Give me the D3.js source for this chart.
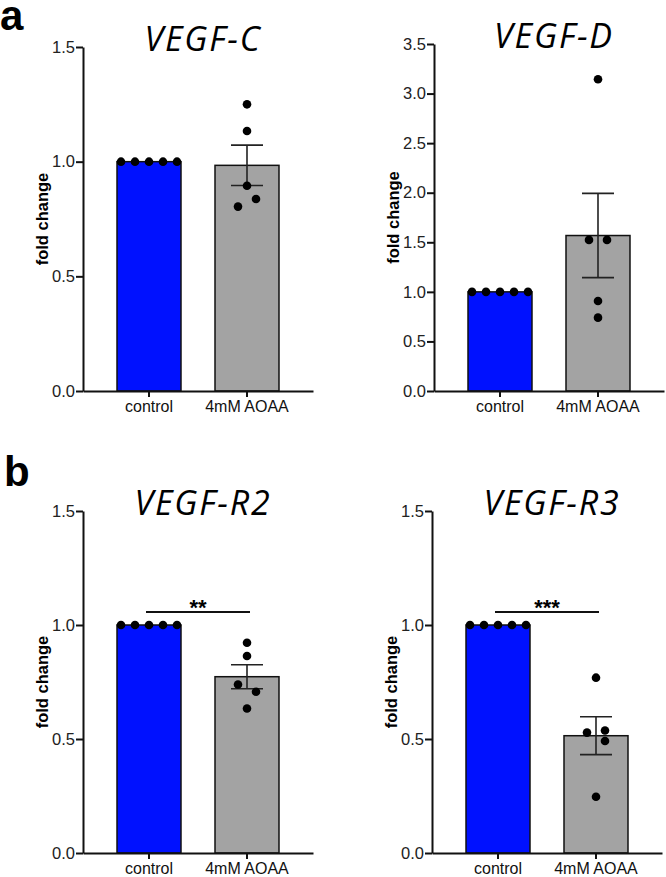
<!DOCTYPE html>
<html>
<head>
<meta charset="utf-8">
<script src="https://cdn.jsdelivr.net/npm/d3@7"></script>
<style>
body { margin: 0; background: #fff; }
svg { display: block; }
.tick text { font-family: "Liberation Sans", Arial, sans-serif; }
</style>
</head>
<body>
<svg id="chart" width="666" height="877"></svg>
<script>
// data
var genes = ["VEGF-C", "VEGF-D", "VEGF-R2", "VEGF-R3"]
var groups = ["control", "4mM AOAA"]
var controlPoints = [
  [1, 1, 1, 1, 1],
  [1, 1, 1, 1, 1],
  [1, 1, 1, 1, 1],
  [1, 1, 1, 1, 1]
]
var aoaaPoints = [
  [1.25, 1.134, 0.895, 0.837, 0.804],
  [3.145, 1.524, 1.524, 0.908, 0.74],
  [0.922, 0.864, 0.739, 0.707, 0.634],
  [0.769, 0.537, 0.528, 0.491, 0.247]
]
var yMax = [1.5, 3.5, 1.5, 1.5]
var significance = ["", "", "**", "***"]
var panelLetters = ["a", "b"]

// layout (pixels)
var layout = [
  {x: 83, top: 47, bottom: 391, jitter: [0, 0, 0, 9, -9]},
  {x: 434, top: 44, bottom: 391, jitter: [0, -9, 9, 0, 0]},
  {x: 83, top: 511, bottom: 853, jitter: [0, 0, -9, 9, 0]},
  {x: 432, top: 511, bottom: 853, jitter: [0, 9, -9, 9, 0]}
]
var controlJitter = [-28, -14, 0, 14, 28]
var colors = ["#0011ff", "#a3a3a3"]

var svg = d3.select("#chart")

svg.selectAll("text.letter")
  .data(panelLetters)
  .enter()
  .append("text")
  .attr("class", "letter")
  .attr("x", function(d, i) { return i == 0 ? 0 : 4 })
  .attr("y", function(d, i) { return i == 0 ? 30 : 486 })
  .attr("font-family", "Liberation Sans, Arial, sans-serif")
  .attr("font-weight", "bold")
  .attr("font-size", 42)
  .text(function(d) { return d })

var drawPanel = function(k)
{
  var L = layout[k]
  var g = svg.append("g")

  var xscale = d3.scaleBand()
    .domain(groups)
    .range([L.x, L.x + 230])
    .paddingInner(0.347)
    .paddingOuter(0.347)

  var yscale = d3.scaleLinear()
    .domain([0, yMax[k]])
    .range([L.bottom, L.top])

  var series = [controlPoints[k], aoaaPoints[k]]
  var stats = series.map(function(p, i) {
    var m = d3.mean(p)
    var sd = d3.deviation(p) || 0
    return {group: groups[i], mean: m, sem: sd / Math.sqrt(p.length), i: i}
  })

  // bars
  g.selectAll("rect")
    .data(stats)
    .enter()
    .append("rect")
    .attr("x", function(d) { return xscale(d.group) })
    .attr("width", xscale.bandwidth())
    .attr("y", function(d) { return yscale(d.mean) })
    .attr("height", function(d) { return yscale(0) - yscale(d.mean) })
    .attr("fill", function(d) { return colors[d.i] })
    .attr("stroke", "#111")
    .attr("stroke-width", 1.5)

  // error bars
  var err = g.selectAll("g.err")
    .data(stats.filter(function(d) { return d.sem > 0 }))
    .enter()
    .append("g")
    .attr("stroke", "#222")
    .attr("stroke-width", 1.6)
  err.append("line")
    .attr("x1", function(d) { return xscale(d.group) + xscale.bandwidth() / 2 })
    .attr("x2", function(d) { return xscale(d.group) + xscale.bandwidth() / 2 })
    .attr("y1", function(d) { return yscale(d.mean - d.sem) })
    .attr("y2", function(d) { return yscale(d.mean + d.sem) })
  err.selectAll("line.cap")
    .data(function(d) { return [d.mean - d.sem, d.mean + d.sem].map(function(v) { return {v: v, group: d.group} }) })
    .enter()
    .append("line")
    .attr("class", "cap")
    .attr("x1", function(d) { return xscale(d.group) + xscale.bandwidth() / 2 - 16 })
    .attr("x2", function(d) { return xscale(d.group) + xscale.bandwidth() / 2 + 16 })
    .attr("y1", function(d) { return yscale(d.v) })
    .attr("y2", function(d) { return yscale(d.v) })

  // points
  var pts = []
  controlPoints[k].forEach(function(v, j) { pts.push({group: groups[0], v: v, dx: controlJitter[j]}) })
  aoaaPoints[k].forEach(function(v, j) { pts.push({group: groups[1], v: v, dx: L.jitter[j]}) })
  g.selectAll("circle")
    .data(pts)
    .enter()
    .append("circle")
    .attr("cx", function(d) { return xscale(d.group) + xscale.bandwidth() / 2 + d.dx })
    .attr("cy", function(d) { return yscale(d.v) })
    .attr("r", 4.3)
    .attr("fill", "#000")

  // axes
  var yAxis = g.append("g")
    .attr("transform", "translate(" + L.x + ",0)")
    .call(d3.axisLeft(yscale)
      .tickValues(d3.range(0, yMax[k] + 0.01, 0.5))
      .tickFormat(d3.format(".1f"))
      .tickSize(7)
      .tickSizeOuter(0)
      .tickPadding(1))
  yAxis.selectAll("path, line").attr("stroke", "#111").attr("stroke-width", 2)
  yAxis.selectAll("text").attr("font-size", 16.5).attr("fill", "#222")

  var xAxis = g.append("g")
    .attr("transform", "translate(0," + L.bottom + ")")
    .call(d3.axisBottom(xscale).tickSize(6).tickSizeOuter(0).tickPadding(4))
  xAxis.selectAll("path, line").attr("stroke", "#111").attr("stroke-width", 2)
  xAxis.selectAll("text").attr("font-size", 16).attr("fill", "#111")

  // y label
  g.append("text")
    .attr("transform", "translate(" + (L.x - 35) + "," + ((L.top + L.bottom) / 2) + ") rotate(-90)")
    .attr("text-anchor", "middle")
    .attr("font-family", "Liberation Sans, Arial, sans-serif")
    .attr("font-weight", "bold")
    .attr("font-size", 16.5)
    .text("fold change")

  // title
  g.append("text")
    .attr("x", L.x + 120)
    .attr("y", L.top + 4)
    .attr("text-anchor", "middle")
    .attr("font-family", "Open Sans, sans-serif")
    .attr("font-style", "italic")
    .attr("font-size", 34)
    .attr("letter-spacing", 1.8)
    .text(genes[k])

  // significance
  if (significance[k] != "") {
    var c0 = xscale(groups[0]) + xscale.bandwidth() / 2
    var c1 = xscale(groups[1]) + xscale.bandwidth() / 2
    var ys = yscale(1.057)
    g.append("line")
      .attr("x1", c0 - 3).attr("x2", c1 + 3)
      .attr("y1", ys).attr("y2", ys)
      .attr("stroke", "#111").attr("stroke-width", 2)
    g.append("text")
      .attr("x", (c0 + c1) / 2)
      .attr("y", ys + 3)
      .attr("text-anchor", "middle")
      .attr("font-family", "Liberation Sans, Arial, sans-serif")
      .attr("font-weight", "bold")
      .attr("font-size", 22)
      .text(significance[k])
  }
}

genes.forEach(function(d, k) { drawPanel(k) })
</script>
</body>
</html>
